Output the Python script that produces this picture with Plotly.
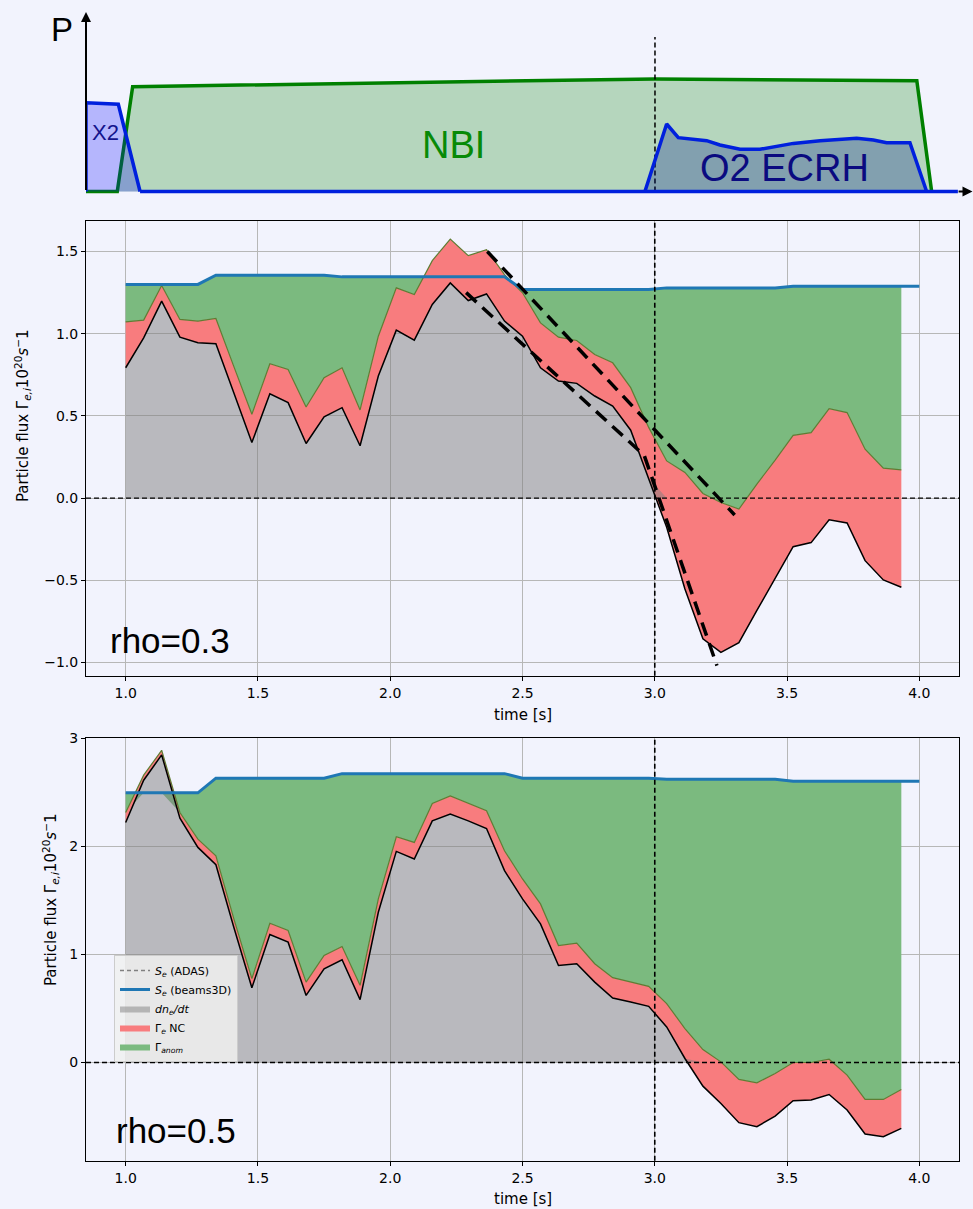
import numpy as np
import plotly.graph_objects as go

# ---------------- data ----------------
time_s = [1.0, 1.068, 1.136, 1.205, 1.273, 1.341, 1.409, 1.477, 1.545, 1.614,
          1.682, 1.75, 1.818, 1.886, 1.955, 2.023, 2.091, 2.159, 2.227, 2.295,
          2.364, 2.432, 2.5, 2.568, 2.636, 2.705, 2.773, 2.841, 2.909, 2.977,
          3.045, 3.114, 3.182, 3.25, 3.318, 3.386, 3.455, 3.523, 3.591, 3.659,
          3.727, 3.795, 3.864, 3.932, 4.0]

# rho = 0.3
dndt_03 = [0.793, 0.975, 1.198, 0.979, 0.945, 0.939, 0.64, 0.338, 0.635, 0.581,
           0.332, 0.494, 0.550, 0.318, 0.743, 1.022, 0.961, 1.178, 1.309, 1.202,
           1.242, 1.077, 0.985, 0.793, 0.712, 0.698, 0.621, 0.560, 0.413, 0.12,
           -0.178, -0.553, -0.856, -0.939, -0.880, -0.684, -0.488, -0.296, -0.271, -0.132,
           -0.152, -0.381, -0.498, -0.543]
nc_03 = [0.279, 0.108, 0.095, 0.108, 0.132, 0.154, 0.16, 0.172, 0.182, 0.202,
         0.222, 0.238, 0.243, 0.218, 0.242, 0.257, 0.278, 0.267, 0.267, 0.273,
         0.270, 0.283, 0.264, 0.273, 0.267, 0.261, 0.253, 0.263, 0.259, 0.31,
         0.404, 0.709, 0.884, 0.912, 0.813, 0.769, 0.719, 0.678, 0.669, 0.676,
         0.672, 0.678, 0.680, 0.715]
se_beams_03 = [1.30, 1.30, 1.30, 1.30, 1.30,
               1.356, 1.356, 1.356, 1.356, 1.356, 1.356, 1.356,
               1.346, 1.346, 1.346, 1.346, 1.346, 1.346, 1.346, 1.346, 1.346, 1.346,
               1.269, 1.269, 1.269, 1.269, 1.269, 1.269, 1.269, 1.269,
               1.279, 1.279, 1.279, 1.279, 1.279, 1.279, 1.279,
               1.289, 1.289, 1.289, 1.289, 1.289, 1.289, 1.289, 1.289]

# rho = 0.5
dndt_05 = [2.222, 2.613, 2.847, 2.262, 1.991, 1.831, 1.25, 0.692, 1.185, 1.114,
           0.621, 0.868, 0.951, 0.582, 1.391, 1.954, 1.884, 2.237, 2.299, 2.237,
           2.166, 1.776, 1.514, 1.283, 0.898, 0.914, 0.744, 0.597, 0.560, 0.520,
           0.329, 0.037, -0.219, -0.379, -0.557, -0.594, -0.496, -0.354, -0.348, -0.296,
           -0.440, -0.662, -0.687, -0.610]
nc_05 = [0.092, 0.047, 0.043, 0.052, 0.077, 0.083, 0.08, 0.084, 0.104, 0.108,
         0.123, 0.123, 0.123, 0.132, 0.123, 0.136, 0.153, 0.160, 0.169, 0.160,
         0.164, 0.184, 0.185, 0.185, 0.185, 0.191, 0.170, 0.188, 0.184, 0.185,
         0.216, 0.277, 0.339, 0.385, 0.400, 0.406, 0.394, 0.354, 0.348, 0.326,
         0.323, 0.320, 0.345, 0.361]
se_beams_05 = [2.496, 2.496, 2.496, 2.496, 2.496,
               2.632, 2.632, 2.632, 2.632, 2.632, 2.632, 2.632,
               2.674, 2.674, 2.674, 2.674, 2.674, 2.674, 2.674, 2.674, 2.674, 2.674,
               2.632, 2.632, 2.632, 2.632, 2.632, 2.632, 2.632, 2.632,
               2.622, 2.622, 2.622, 2.622, 2.622, 2.622, 2.622,
               2.604, 2.604, 2.604, 2.604, 2.604, 2.604, 2.604, 2.604]

# guide (slope) lines in rho=0.3 panel
guide_a_t = [2.287, 2.96, 3.235]
guide_a_v = [1.25, 0.26, -1.02]
guide_b_t = [2.367, 3.302]
guide_b_v = [1.50, -0.103]

# schematic heating traces (top panel)
x2_t = [0.853, 0.853, 0.975, 1.057]
x2_p = [0.0, 0.495, 0.486, 0.0]
nbi_t = [0.853, 0.971, 1.029, 3.0, 3.988, 4.044]
nbi_p = [0.0, 0.0, 0.584, 0.627, 0.617, 0.0]
ecrh_t = [2.962, 3.044, 3.088, 3.195, 3.245, 3.321, 3.396, 3.459, 3.522, 3.623,
          3.686, 3.761, 3.824, 3.874, 3.962, 4.025]
ecrh_p = [0.0, 0.376, 0.300, 0.283, 0.259, 0.235, 0.235, 0.253, 0.268, 0.283,
          0.287, 0.296, 0.287, 0.272, 0.272, 0.0]
base_t = [1.057, 4.143]
base_p = [0.0, 0.0]
t_switch = 3.0
dash_top_p = [0.0, 0.861]

# ---------------- styles ----------------
BG = "#f2f3fd"
GRAY = "rgba(128,128,128,0.5)"
RED = "rgb(248,124,126)"
GREEN = "rgb(123,186,127)"
OLIVE = "#5f7d33"
BLUE = "#1f77b4"
FONT = "DejaVu Sans"
SANS = "Liberation Sans, Arial, sans-serif"

W, H = 973, 1209


def px2x(p):
    return p / W


def py2y(p):
    return 1 - p / H


fig = go.Figure()
t44 = time_s[:44]


def add_panel(xa, ya, dn, nc, se, show):
    dn = np.array(dn)
    nc = np.array(nc)
    se_f = np.array(se[:44])
    top = dn + nc
    lower = np.minimum(top, se_f)
    common = dict(xaxis=xa, yaxis=ya, hoverinfo="skip")
    fig.add_trace(go.Scatter(
        x=t44 + t44[::-1], y=list(se_f) + list(lower[::-1]), fill="toself",
        fillcolor=GREEN, mode="lines", line=dict(width=0),
        name="Γ<sub><i>anom</i></sub>", showlegend=show, legendrank=5, **common))
    fig.add_trace(go.Scatter(
        x=t44 + t44[::-1], y=list(top) + list(dn[::-1]), fill="toself",
        fillcolor=RED, mode="lines", line=dict(width=0),
        name="Γ<sub><i>e</i></sub> NC", showlegend=show, legendrank=4, **common))
    fig.add_trace(go.Scatter(
        x=t44, y=list(np.maximum(dn, 0)), fill="tozeroy", fillcolor=GRAY,
        mode="lines", line=dict(width=0),
        name="<i>dn<sub>e</sub>/dt</i>", showlegend=show, legendrank=3, **common))
    fig.add_trace(go.Scatter(x=t44, y=list(top), mode="lines",
                             line=dict(color=OLIVE, width=1.2), showlegend=False, **common))
    fig.add_trace(go.Scatter(x=t44, y=list(dn), mode="lines",
                             line=dict(color="black", width=1.5), showlegend=False, **common))
    fig.add_trace(go.Scatter(x=time_s, y=se, mode="lines",
                             line=dict(color=BLUE, width=3),
                             name="<i>S<sub>e</sub></i> (beams3D)", showlegend=show,
                             legendrank=2, **common))


add_panel("x", "y", dndt_03, nc_03, se_beams_03, True)
add_panel("x2", "y2", dndt_05, nc_05, se_beams_05, False)

# legend-only ADAS entry
fig.add_trace(go.Scatter(x=[None], y=[None], mode="lines",
                         line=dict(color="gray", width=1.3, dash="4px,3px"),
                         name="<i>S<sub>e</sub></i> (ADAS)", legendrank=1,
                         xaxis="x2", yaxis="y2"))

# slope guides
for gt, gv in [(guide_a_t, guide_a_v), (guide_b_t, guide_b_v)]:
    fig.add_trace(go.Scatter(x=gt, y=gv, mode="lines",
                             line=dict(color="black", width=3.5, dash="14px,8px"),
                             showlegend=False, hoverinfo="skip", xaxis="x", yaxis="y"))

# ---------------- top schematic ----------------
fig.add_trace(go.Scatter(x=nbi_t, y=nbi_p, fill="toself", fillcolor="rgba(0,128,0,0.25)",
                         mode="lines", line=dict(color="#008000", width=3.5),
                         showlegend=False, hoverinfo="skip", xaxis="x3", yaxis="y3"))
fig.add_trace(go.Scatter(x=x2_t, y=x2_p, fill="toself", fillcolor="rgba(0,0,255,0.25)",
                         mode="lines", line=dict(color="#0020dd", width=3.5),
                         showlegend=False, hoverinfo="skip", xaxis="x3", yaxis="y3"))
fig.add_trace(go.Scatter(x=[t_switch, t_switch], y=dash_top_p, mode="lines",
                         line=dict(color="black", width=1.5, dash="5px,3px"),
                         showlegend=False, hoverinfo="skip", xaxis="x3", yaxis="y3"))
fig.add_trace(go.Scatter(x=ecrh_t, y=ecrh_p, fill="toself", fillcolor="rgba(0,20,140,0.28)",
                         mode="lines", line=dict(color="#0020dd", width=3.5),
                         showlegend=False, hoverinfo="skip", xaxis="x3", yaxis="y3"))
fig.add_trace(go.Scatter(x=base_t, y=base_p, mode="lines",
                         line=dict(color="#0020dd", width=3.5),
                         showlegend=False, hoverinfo="skip", xaxis="x3", yaxis="y3"))


def txt(x, y, text, size, color, family, xref="paper", yref="paper", angle=0):
    return dict(x=x, y=y, xref=xref, yref=yref, text=text, showarrow=False,
                xanchor="center", yanchor="middle", textangle=angle,
                font=dict(family=family, size=size, color=color))


ylabel = "Particle flux Γ<sub><i>e,i</i></sub>10<sup>20</sup><i>s</i><sup>−</sup>1"
annotations = [
    # axis arrows of the schematic
    dict(x=0.853, y=1.0, ax=0.853, ay=0.0, xref="x3", yref="y3", axref="x3", ayref="y3",
         showarrow=True, arrowhead=2, arrowsize=1, arrowwidth=2, arrowcolor="black", text=""),
    dict(x=4.198, y=0.0, ax=4.14, ay=0.0, xref="x3", yref="y3", axref="x3", ayref="y3",
         showarrow=True, arrowhead=2, arrowsize=1, arrowwidth=2, arrowcolor="black", text=""),
    txt(px2x(62), py2y(29), "P", 33, "black", SANS),
    txt(0.925, 0.326, "X2", 22, "#14148c", SANS, "x3", "y3"),
    txt(2.238, 0.26, "NBI", 38, "#078a07", SANS, "x3", "y3"),
    txt(3.487, 0.131, "O2 ECRH", 38, "#0a0a80", SANS, "x3", "y3"),
    # rho labels
    txt(1.166, -0.866, "rho=0.3", 35, "black", SANS, "x", "y"),
    txt(1.189, -0.625, "rho=0.5", 35, "black", SANS, "x2", "y2"),
    # axis titles
    txt(px2x(22), py2y(416), ylabel, 15, "black", FONT, angle=-90),
    txt(px2x(50), py2y(900), ylabel, 15, "black", FONT, angle=-90),
    txt(px2x(523), py2y(715), "time [s]", 15, "black", FONT),
    txt(px2x(523), py2y(1199), "time [s]", 15, "black", FONT),
]

shapes = []
for xa, ya in [("x", "y"), ("x2", "y2")]:
    shapes.append(dict(type="line", xref=f"{xa} domain", yref=ya, x0=0, x1=1, y0=0, y1=0,
                       line=dict(color="black", width=1.3, dash="5px,3px"), layer="above"))
    shapes.append(dict(type="line", xref=xa, yref=f"{ya} domain", x0=t_switch, x1=t_switch,
                       y0=0, y1=1, line=dict(color="black", width=1.6, dash="5px,3px"),
                       layer="above"))

xticks = [1.0, 1.5, 2.0, 2.5, 3.0, 3.5, 4.0]
xtick_text = ["1.0", "1.5", "2.0", "2.5", "3.0", "3.5", "4.0"]
yticks_03 = [-1.0, -0.5, 0.0, 0.5, 1.0, 1.5]
ytick_text_03 = ["−1.0", "−0.5", "0.0", "0.5", "1.0", "1.5"]
yticks_05 = [0, 1, 2, 3]
ytick_text_05 = ["0", "1", "2", "3"]

ax_common = dict(showline=True, mirror=True, linecolor="black", linewidth=1,
                 ticks="outside", ticklen=4, tickwidth=1, tickcolor="black",
                 showgrid=True, gridcolor="#b7b7b7", gridwidth=1, zeroline=False,
                 automargin=False,
                 tickfont=dict(family=FONT, size=14, color="black"))

fig.update_layout(
    template="none",
    width=W, height=H, margin=dict(l=0, r=0, t=0, b=0, pad=0, autoexpand=False),
    paper_bgcolor=BG, plot_bgcolor="rgba(0,0,0,0)",
    font=dict(family=FONT, color="black"),
    xaxis=dict(domain=[px2x(86), px2x(959)], range=[0.85, 4.15], anchor="y",
               tickvals=xticks, ticktext=xtick_text, **ax_common),
    yaxis=dict(domain=[py2y(675.7), py2y(221)], range=[-1.081, 1.686], anchor="x",
               tickvals=yticks_03, ticktext=ytick_text_03, **ax_common),
    xaxis2=dict(domain=[px2x(86), px2x(959)], range=[0.85, 4.15], anchor="y2",
                tickvals=xticks, ticktext=xtick_text, **ax_common),
    yaxis2=dict(domain=[py2y(1160.7), py2y(738.3)], range=[-0.909, 3.001], anchor="x2",
                tickvals=yticks_05, ticktext=ytick_text_05, **ax_common),
    xaxis3=dict(domain=[px2x(86), 1.0], range=[0.853, 4.200], anchor="y3", visible=False,
                automargin=False),
    yaxis3=dict(domain=[py2y(200), py2y(8)], range=[-0.0474, 1.0223], anchor="x3",
                visible=False, automargin=False),
    showlegend=True,
    legend=dict(x=px2x(114), y=py2y(955), xanchor="left", yanchor="top",
                bgcolor="rgba(240,240,240,0.85)", bordercolor="#cccccc", borderwidth=1,
                font=dict(family=FONT, size=11, color="black"), itemwidth=30,
                traceorder="normal", tracegroupgap=0),
    annotations=annotations,
    shapes=shapes,
)

fig.write_html("out.html")
